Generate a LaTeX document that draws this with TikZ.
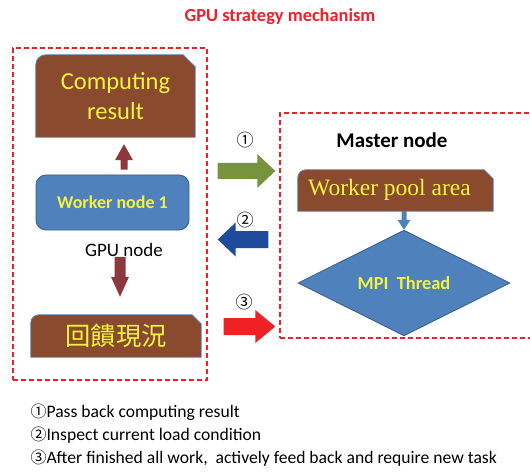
\documentclass[tikz,border=0pt]{standalone}
\usepackage{fontspec}
\setmainfont{Carlito}
\newfontfamily\tnr{Liberation Serif}
\newfontfamily\cjk{Noto Sans CJK TC}
\usetikzlibrary{calc,shapes.geometric,backgrounds}
\definecolor{brownf}{RGB}{138,74,46}
\definecolor{ytext}{RGB}{242,242,64}
\definecolor{boxblue}{RGB}{79,129,189}
\definecolor{boxborder}{RGB}{56,93,138}
\definecolor{darkred}{RGB}{140,56,60}
\definecolor{agreen}{RGB}{119,147,60}
\definecolor{ablue}{RGB}{30,75,155}
\definecolor{ared}{RGB}{238,34,36}
\definecolor{dashred}{RGB}{240,30,40}
\newcommand\fs[1]{\fontsize{#1}{#1}\selectfont}
\newcommand\blockarrow[6]{% style, from, to, shaft half, head half, head length
  \coordinate (bac) at ($(#3)!#6!(#2)$);
  \fill[#1] ($(#2)!#4!90:(#3)$) -- ($(bac)!#4!-90:(#2)$) -- ($(bac)!#5!-90:(#2)$) -- (#3)
    -- ($(bac)!#5!90:(#2)$) -- ($(bac)!#4!90:(#2)$) -- ($(#2)!#4!-90:(#3)$) -- cycle;}
\newcommand\snipshape[3]{% node, radius, snip
  \filldraw[fill=brownf, draw=boxblue, line width=0.8pt] (#1.south west) -- ([yshift=-#2]#1.north west)
    arc[start angle=180,end angle=90,radius=#2] -- ([xshift=-#3]#1.north east)
    -- ([yshift=-#3]#1.north east) -- (#1.south east) -- cycle;}
\tikzset{
  dashbox/.style={draw=dashred, line width=1.4pt, dash pattern=on 5pt off 3pt, inner sep=0},
  brownnode/.style={rectangle, inner sep=0, text=ytext},
  bluebox/.style={rectangle, rounded corners=10pt, fill=boxblue, draw=boxborder, line width=0.8pt, inner sep=0, text=ytext},
  circnum/.style={font=\cjk\fs{17}},
  legend/.style={anchor=west, font=\fs{17.6}},
}
\begin{document}
\begin{tikzpicture}[x=1pt,y=1pt]
\useasboundingbox (0,0) rectangle (530,472);
% title
\node[font=\bfseries\fs{18.4}, text=dashred] (title) at (280,455) {GPU strategy mechanism};
% containers
\node[dashbox, minimum width=194, minimum height=332] (L) at (110,258) {};
\node[dashbox, minimum width=260, minimum height=225] (R) at (410,246.5) {};
% left side
\node[brownnode, minimum width=159, minimum height=82, align=center, font=\fontsize{24.5}{30}\selectfont] (cr) at (115.5,376) {Computing\\result};
\node[bluebox, minimum width=153, minimum height=55, font=\bfseries\fs{18}] (wn) at (112.5,269.5) {Worker node 1};
\node[font=\fs{19}] (gpu) at (124,222) {GPU node};
\node[brownnode, minimum width=170, minimum height=42, font=\cjk\fs{25.3}] (fb) at (116,136) {回饋現況};
% right side
\node[font=\bfseries\fs{21}] (master) at (392,332) {Master node};
\node[brownnode, minimum width=195, minimum height=41] (pool) at (395.5,281.5) {};
\node[text=ytext, font=\tnr\fs{23.5}] (pooltxt) at (389.5,282) {Worker pool area};
\node[diamond, fill=boxblue, draw=boxborder, line width=0.8pt, minimum width=212, minimum height=100, inner sep=0, text=ytext, font=\bfseries\fs{18.4}] (mpi) at (404,189) {MPI\ \ Thread};
% numbers
\node[circnum] (n1) at (245,332) {①};
\node[circnum] (n2) at (245,252) {②};
\node[circnum] (n3) at (244,170) {③};
% arrows
\coordinate (u1) at ([xshift=11.5pt,yshift=5pt]wn.north);
\coordinate (u2) at ([xshift=8.5pt,yshift=-7pt]cr.south);
\blockarrow{darkred}{u1}{u2}{3.5pt}{9pt}{16pt}
\coordinate (d1) at ($(fb.north)+(4,58)$);
\coordinate (d2) at ($(fb.north)+(4,18)$);
\blockarrow{darkred}{d1}{d2}{5.5pt}{9pt}{20pt}
\coordinate (p1) at (pool.south -| mpi.north);
\blockarrow{boxblue}{p1}{mpi.north}{2.5pt}{6.5pt}{10pt}
\coordinate (a1s) at ($(L.east)+(10,43)$);
\coordinate (a1e) at ($(R.west)+(-4,54.5)$);
\blockarrow{agreen}{a1s}{a1e}{8pt}{17pt}{18pt}
\coordinate (a2s) at ($(R.west)+(-11,-14)$);
\coordinate (a2e) at ($(L.east)+(10,-25.5)$);
\blockarrow{ablue}{a2s}{a2e}{8.5pt}{17pt}{18pt}
\coordinate (a3s) at ($(L.east)+(16,-112.5)$);
\coordinate (a3e) at ($(R.west)+(-4,-101)$);
\blockarrow{ared}{a3s}{a3e}{8.5pt}{16.5pt}{20pt}
% legend
\node[legend] (l1) at (27,60) {{\cjk\fs{16}①}Pass back computing result};
\node[legend] (l2) at (27,37) {{\cjk\fs{16}②}Inspect current load condition};
\node[legend] (l3) at (27,14) {{\cjk\fs{16}③}After finished all work,\ \ actively feed back and require new task};
% background shapes
\begin{pgfonlayer}{background}
\fill[white] (0,0) rectangle (530,472);
\snipshape{cr}{10pt}{12pt}
\snipshape{fb}{8pt}{9pt}
\snipshape{pool}{8pt}{9pt}
\end{pgfonlayer}
\end{tikzpicture}
\end{document}
